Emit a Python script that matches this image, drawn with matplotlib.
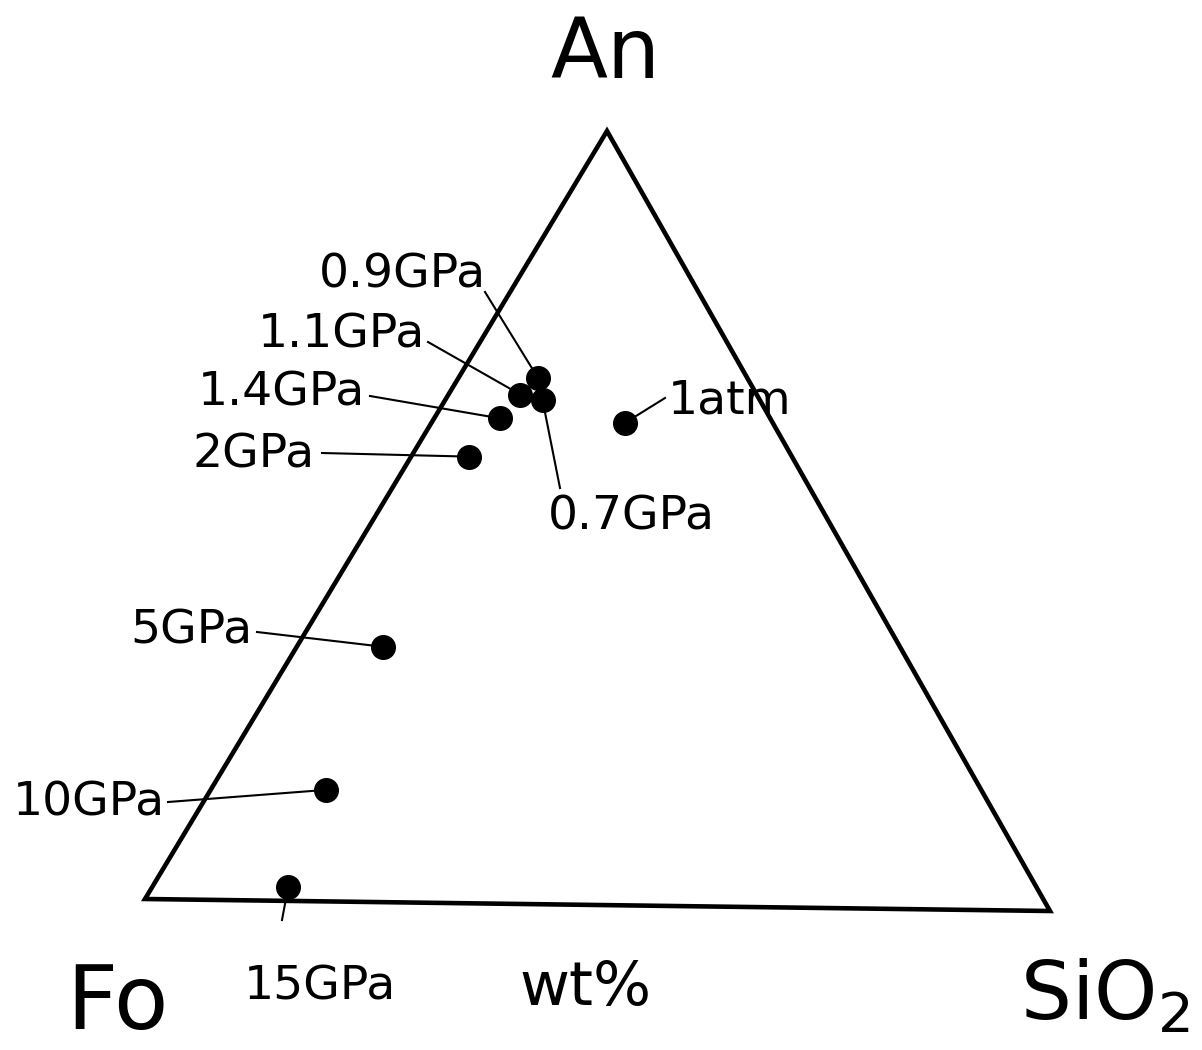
import numpy as np
import matplotlib.pyplot as plt
from matplotlib.patches import Polygon

# Melt compositions (wt%) in the Fo-An-SiO2 system at each pressure
pressures = ["1atm", "0.7GPa", "0.9GPa", "1.1GPa", "1.4GPa", "2GPa", "5GPa", "10GPa", "15GPa"]
fo_wt = [16.5, 24.2, 23.3, 26.3, 30.1, 36.0, 57.6, 73.0, 83.3]
an_wt = [62.3, 65.1, 68.0, 65.8, 62.7, 57.7, 33.0, 14.4, 1.8]
sio2_wt = [21.2, 10.7, 8.7, 7.9, 7.2, 6.3, 9.4, 12.6, 14.9]

# Triangle corners on the page (pixel units, y downward)
corner_fo = np.array([145.0, 899.0])
corner_an = np.array([607.0, 131.0])
corner_sio2 = np.array([1050.0, 911.0])

# Leader end point and label position for each pressure
label_layout = {
    "1atm":   dict(end=(665, 398), pos=(668, 413), ha="left"),
    "0.7GPa": dict(end=(560, 488), pos=(548, 530), ha="left"),
    "0.9GPa": dict(end=(485, 292), pos=(486, 287), ha="right"),
    "1.1GPa": dict(end=(428, 342), pos=(425, 347), ha="right"),
    "1.4GPa": dict(end=(370, 396), pos=(365, 405), ha="right"),
    "2GPa":   dict(end=(322, 453), pos=(315, 467), ha="right"),
    "5GPa":   dict(end=(257, 632), pos=(252, 643), ha="right"),
    "10GPa":  dict(end=(168, 802), pos=(165, 815), ha="right"),
    "15GPa":  dict(end=(282, 920), pos=(244, 999), ha="left"),
}


def to_page(fo, an, sio2):
    total = fo + an + sio2
    return (fo * corner_fo + an * corner_an + sio2 * corner_sio2) / total


fig = plt.figure(figsize=(12.02, 10.5), dpi=100)
ax = fig.add_axes([0, 0, 1, 1])
ax.set_xlim(0, 1202)
ax.set_ylim(1050, 0)
ax.axis("off")

# triangle outline
ax.add_patch(Polygon([corner_fo, corner_an, corner_sio2], closed=True,
                     fill=False, edgecolor="black", lw=3.3, joinstyle="miter"))

# leaders, dots and pressure labels
for name, fo, an, si in zip(pressures, fo_wt, an_wt, sio2_wt):
    x, y = to_page(fo, an, si)
    lay = label_layout[name]
    ex, ey = lay["end"]
    ax.plot([x, ex], [y, ey], color="black", lw=1.5)
    ax.plot(x, y, "o", color="black", ms=17, zorder=3)
    ax.text(*lay["pos"], name, ha=lay["ha"], va="baseline", fontsize=34)

# corner and unit labels
ax.text(605, 78, "An", ha="center", va="baseline", fontsize=60)
ax.text(66, 1029, "Fo", ha="left", va="baseline", fontsize=64)
ax.text(1020, 1020, "SiO$_2$", ha="left", va="baseline", fontsize=58)
ax.text(586, 1005, "wt%", ha="center", va="baseline", fontsize=44)

fig.savefig("out.png", dpi=100)
